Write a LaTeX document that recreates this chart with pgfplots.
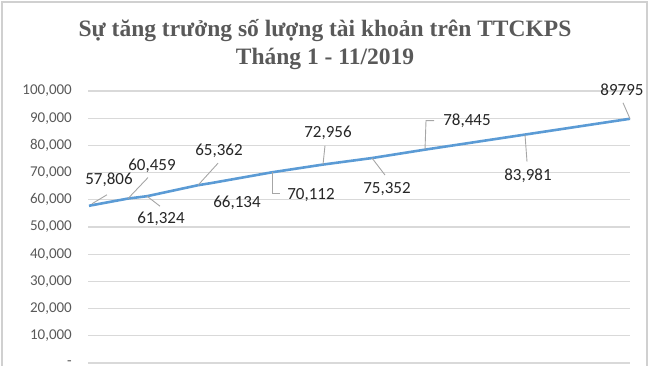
\documentclass[border=0pt]{standalone}
\usepackage{pgfplots}
\pgfplotsset{compat=1.18}
\usepackage{pgfplotstable}
\usepackage{fontspec}
\setmainfont{Carlito}
\newfontfamily\titlefont{Liberation Serif}
\definecolor{linecol}{HTML}{5B9BD5}
\definecolor{gridcol}{HTML}{D9D9D9}
\definecolor{txtgrey}{HTML}{595959}
\definecolor{leadcol}{HTML}{A6A6A6}
\definecolor{framecol}{HTML}{D0D0D0}

\pgfplotstableread{
x   y     dx  dy  lab
89  57806 20  26  57,806
128 60459 24  33  60,459
147 61324 14  -23 61,324
198 65362 21  34  65,362
211 66134 26  -20 66,134
272 70112 39  -23 70,112
323 72956 5   32  72,956
372 75352 15  -31 75,352
425 78445 42  29  78,445
525 83981 3   -41 83,981
630 89795 -8  29  89795
}\accounts

\begin{document}
\begin{tikzpicture}
\begin{axis}[
  at={(88pt,2pt)}, anchor=south west,
  scale only axis, width=542pt, height=272pt,
  xmin=88, xmax=630, ymin=0, ymax=100000,
  axis line style={draw=none},
  major tick length=0pt,
  xtick=\empty,
  scaled y ticks=false,
  ytick={0,10000,20000,30000,40000,50000,60000,70000,80000,90000,100000},
  yticklabels={{-},{10,000},{20,000},{30,000},{40,000},{50,000},{60,000},{70,000},{80,000},{90,000},{100,000}},
  yticklabel style={font=\fontsize{15}{15}\selectfont, text=txtgrey, inner sep=0pt, xshift=-16pt},
  ymajorgrids,
  grid style={gridcol, line width=1.2pt},
  clip=false,
]
\addplot[linecol, line width=2.6pt, line join=round,
  nodes near coords,
  point meta=explicit symbolic,
  visualization depends on={\thisrow{dx}\as\ldx},
  visualization depends on={\thisrow{dy}\as\ldy},
  every node near coord/.append style={anchor=center, inner sep=0pt, xshift=\ldx pt, yshift=\ldy pt,
     font=\fontsize{17}{17}\selectfont, text=black!85},
] table[x=x, y=y, meta=lab] {\accounts};
\begin{scope}[leadcol, line width=0.9pt]
\draw (axis cs:89,57806) ++(3pt,2pt) -- ++(15pt,9pt);
\draw (axis cs:128,60459) -- ++(20pt,21pt);
\draw (axis cs:147,61324) -- ++(13pt,-10pt);
\draw (axis cs:198,65362) -- ++(20pt,22pt);
\draw (axis cs:272,70112) -- ++(0pt,-21pt) -- ++(8pt,0pt);
\draw (axis cs:323,72956) -- ++(2pt,19pt);
\draw (axis cs:372,75352) -- ++(13pt,-17pt);
\draw (axis cs:425,78445) -- ++(1pt,29pt) -- ++(8pt,0pt);
\draw (axis cs:525,83981) -- ++(2pt,-27pt);
\draw (axis cs:630,89795) -- ++(-7pt,16pt);
\end{scope}
\end{axis}
\node[anchor=base, font=\titlefont\bfseries\fontsize{23.5}{23.5}\selectfont, text=txtgrey] at (325pt,328pt) {Sự tăng trưởng số lượng tài khoản trên TTCKPS};
\node[anchor=base, font=\titlefont\bfseries\fontsize{23.5}{23.5}\selectfont, text=txtgrey] at (325pt,301pt) {Tháng 1 - 11/2019};
\draw[framecol, line width=2pt] (2pt,-20pt) -- (2pt,363pt) -- (647pt,363pt) -- (647pt,-20pt);
\pgfresetboundingbox
\useasboundingbox (0pt,0pt) rectangle (650pt,365pt);
\end{tikzpicture}
\end{document}
